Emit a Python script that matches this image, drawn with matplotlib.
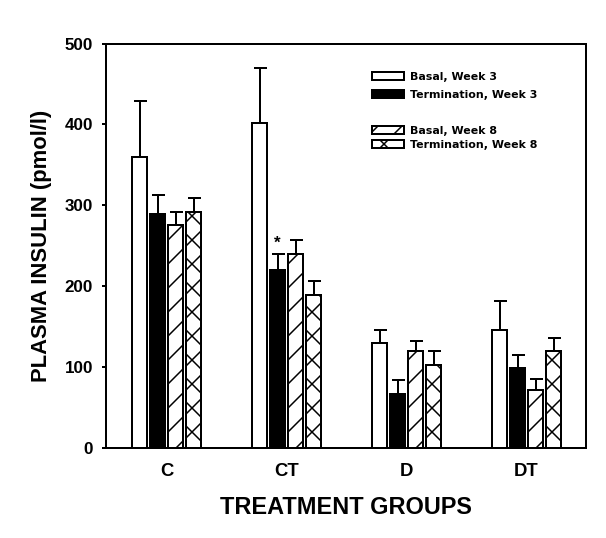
import numpy as np
import matplotlib
matplotlib.use("Agg")
from matplotlib import pyplot as plt
from matplotlib.patches import Patch

# at 72 dpi one point is one pixel, and the default hatch spacing (~12 px) matches the figure
DPI = 72
plt.rcParams["font.family"] = ["Liberation Sans", "DejaVu Sans"]
plt.rcParams["font.weight"] = "bold"
plt.rcParams["hatch.linewidth"] = 1.5

groups = ["C", "CT", "D", "DT"]
series = ["Basal, Week 3", "Termination, Week 3", "Basal, Week 8", "Termination, Week 8"]
basal_w3 = [360, 401, 129, 146]
term_w3 = [289, 220, 66, 98]
basal_w8 = [275, 240, 119.5, 71]
term_w8 = [292, 189, 102, 119.5]
err_basal_w3 = [69, 69, 17, 35]
err_term_w3 = [23, 20, 17, 17]
err_basal_w8 = [17, 17, 12, 14]
err_term_w8 = [17, 17, 17, 16.5]
y_ticks = [0, 100, 200, 300, 400, 500]

means = [basal_w3, term_w3, basal_w8, term_w8]
errs = [err_basal_w3, err_term_w3, err_basal_w8, err_term_w8]
faces = ["white", "black", "white", "white"]
hatches = [None, None, "/", "x"]

fig = plt.figure(figsize=(606 / DPI, 538 / DPI), dpi=DPI)
ax = fig.add_axes([106 / 606, 90.5 / 538, 480 / 606, 404 / 538])

x = np.arange(len(groups))
w = 0.121
step = 0.15
handles = []
for i in range(4):
    off = (i - 1.5) * step
    ax.bar(x + off, means[i], width=w, color=faces[i], edgecolor="black",
           linewidth=2, hatch=hatches[i], zorder=3,
           yerr=[np.zeros(4), errs[i]],
           error_kw=dict(ecolor="black", elinewidth=2, capsize=6.5, capthick=2, zorder=2))
    handles.append(Patch(facecolor=faces[i], edgecolor="black", linewidth=2,
                         hatch=hatches[i], label=series[i]))

# significance marker on CT termination week 3
ax.text(x[1] - 0.5 * step, term_w3[1] + err_term_w3[1] + 3, "*",
        ha="center", va="bottom", fontsize=17)

ax.set_xlim(-0.505, 3.495)
ax.set_ylim(0, 500)
ax.set_yticks(y_ticks)
ax.set_xticks(x)
ax.set_xticklabels(groups, fontsize=18.5, fontweight="bold")
ax.tick_params(axis="x", length=0, pad=16)
ax.tick_params(axis="y", direction="out", length=4, width=2, labelsize=17, pad=9)
for sp in ax.spines.values():
    sp.set_linewidth(2)

ax.set_xlabel("TREATMENT GROUPS", fontsize=23.5, fontweight="bold", labelpad=16)
ax.set_ylabel("PLASMA INSULIN (pmol/l)", fontsize=22, fontweight="bold", labelpad=12)

leg_kw = dict(loc="upper left", frameon=False, borderpad=0, borderaxespad=0,
              handlelength=2.9, handleheight=0.7, handletextpad=0.6,
              prop={"family": "DejaVu Sans", "weight": "bold", "size": 11})
leg1 = ax.legend(handles=handles[:2], bbox_to_anchor=(266 / 480, 376 / 404),
                 labelspacing=0.77, **leg_kw)
ax.add_artist(leg1)
ax.legend(handles=handles[2:], bbox_to_anchor=(266 / 480, 322 / 404),
          labelspacing=0.4, **leg_kw)

fig.savefig("out.png", dpi=DPI)
